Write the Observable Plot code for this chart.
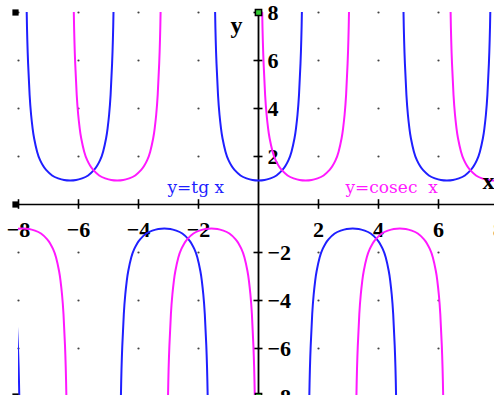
<!DOCTYPE html>
<html>
<head>
<meta charset="utf-8">
<script src="https://cdn.jsdelivr.net/npm/d3@7"></script>
<script src="https://cdn.jsdelivr.net/npm/@observablehq/plot@0.6"></script>
<style>
  html, body { margin: 0; padding: 0; background: #fff; width: 494px; height: 395px; overflow: hidden; }
</style>
</head>
<body>
<div id="chart"></div>
<script>
// One half of a branch: distance from the branch centre and |y| there
const branchOffsets = [0, 0.2, 0.4, 0.6, 0.8, 0.9, 1.0, 1.1, 1.2, 1.25, 1.3, 1.35, 1.4, 1.45, 1.5];
const branchHeights = [1.00, 1.02, 1.09, 1.21, 1.44, 1.61, 1.85, 2.20, 2.76, 3.17, 3.74, 4.57, 5.88, 8.30, 14.14];

// Branch centres and orientation of each curve
const tgCentres = [-9.42, -6.28, -3.14, 0, 3.14, 6.28, 9.42];
const tgSigns = [-1, 1, -1, 1, -1, 1, -1];
const cosecCentres = [-7.85, -4.71, -1.57, 1.57, 4.71, 7.85];
const cosecSigns = [-1, 1, -1, 1, -1, 1];

// Axis ticks and the dotted grid
const xTicks = [-8, -6, -4, -2, 2, 4, 6, 8];
const yTicks = [-8, -6, -4, -2, 2, 4, 6, 8];
const gridX = [-8, -6, -4, -2, 0, 2, 4, 6, 8];
const gridY = [-8, -6, -4, -2, 0, 2, 4, 6, 8];

// Window-edge markers
const edgeMarks = [{x: -8, y: 8}, {x: -8, y: 0}, {x: -8, y: -8}];
const axisEnds = [{x: 0, y: 8}, {x: 0, y: -8}];

const BLUE = "#1f1fff";
const MAGENTA = "#ff19ff";

function branches(centres, signs, name) {
  const rows = [];
  centres.forEach((c, i) => {
    const offs = [...branchOffsets.slice(1).map(d => -d).reverse(), ...branchOffsets];
    const hs = [...branchHeights.slice(1).reverse(), ...branchHeights];
    offs.forEach((d, j) => rows.push({branch: name + i, x: c + d, y: signs[i] * hs[j]}));
  });
  return rows;
}

const tgRows = branches(tgCentres, tgSigns, "tg");
const cosecRows = branches(cosecCentres, cosecSigns, "cosec");
const grid = gridX.flatMap(x => gridY.map(y => ({x, y})));
const fmt = d => d < 0 ? "\u2212" + (-d) : String(d);

const serif = "'Liberation Serif', 'DejaVu Serif', serif";
const slab = "'DejaVu Serif', serif";

const chart = Plot.plot({
  width: 500,
  height: 400,
  marginLeft: 18,
  marginRight: 2,
  marginTop: 12,
  marginBottom: 4,
  x: {domain: [-8, 8], axis: null},
  y: {domain: [-8, 8], axis: null},
  style: {maxWidth: "none", background: "#fff"},
  marks: [
    Plot.dot(grid, {x: "x", y: "y", r: 1.1, fill: "#444", stroke: null}),
    Plot.ruleY([0], {stroke: "#000", strokeWidth: 1.6}),
    Plot.ruleX([0], {stroke: "#000", strokeWidth: 1.8}),
    Plot.ruleX(xTicks, {x: d => d, y1: -0.2, y2: 0.2, stroke: "#000", strokeWidth: 1.6}),
    Plot.ruleY(yTicks, {y: d => d, x1: -0.15, x2: 0.15, stroke: "#000", strokeWidth: 1.6}),
    Plot.text(xTicks, {x: d => d, y: 0, text: fmt, dy: 25, fontFamily: serif, fontWeight: "bold", fontSize: 22, fill: "#000"}),
    Plot.text(yTicks, {x: 0, y: d => d, text: fmt, dx: 9, textAnchor: "start", fontFamily: serif, fontWeight: "bold", fontSize: 22, fill: "#000"}),
    Plot.line(tgRows, {x: "x", y: "y", z: "branch", stroke: BLUE, strokeWidth: 2, curve: "natural", clip: true}),
    Plot.line(cosecRows, {x: "x", y: "y", z: "branch", stroke: MAGENTA, strokeWidth: 2, curve: "natural", clip: true}),
    Plot.text(["y=tg x"], {x: 0, y: 0, dx: -91, dy: -17, textAnchor: "start", fontFamily: slab, fontSize: 17, fill: BLUE}),
    Plot.text(["y=cosec  x"], {x: 0, y: 0, dx: 87, dy: -17, textAnchor: "start", fontFamily: slab, fontSize: 17, fill: MAGENTA}),
    Plot.text(["y"], {x: 0, y: 8, dx: -22, dy: 13, fontFamily: serif, fontWeight: "bold", fontSize: 24, fill: "#000"}),
    Plot.text(["x"], {x: 8, y: 0, dx: -10, dy: -23, fontFamily: serif, fontWeight: "bold", fontSize: 24, fill: "#000"}),
    Plot.dot(edgeMarks, {x: "x", y: "y", symbol: "square", r: 3.5, dx: -3, fill: "#000", stroke: null}),
    Plot.dot(axisEnds, {x: "x", y: "y", symbol: "square", r: 3.5, fill: "#3c3", stroke: "#000", strokeWidth: 1.5})
  ]
});

document.getElementById("chart").appendChild(chart);
</script>
</body>
</html>
